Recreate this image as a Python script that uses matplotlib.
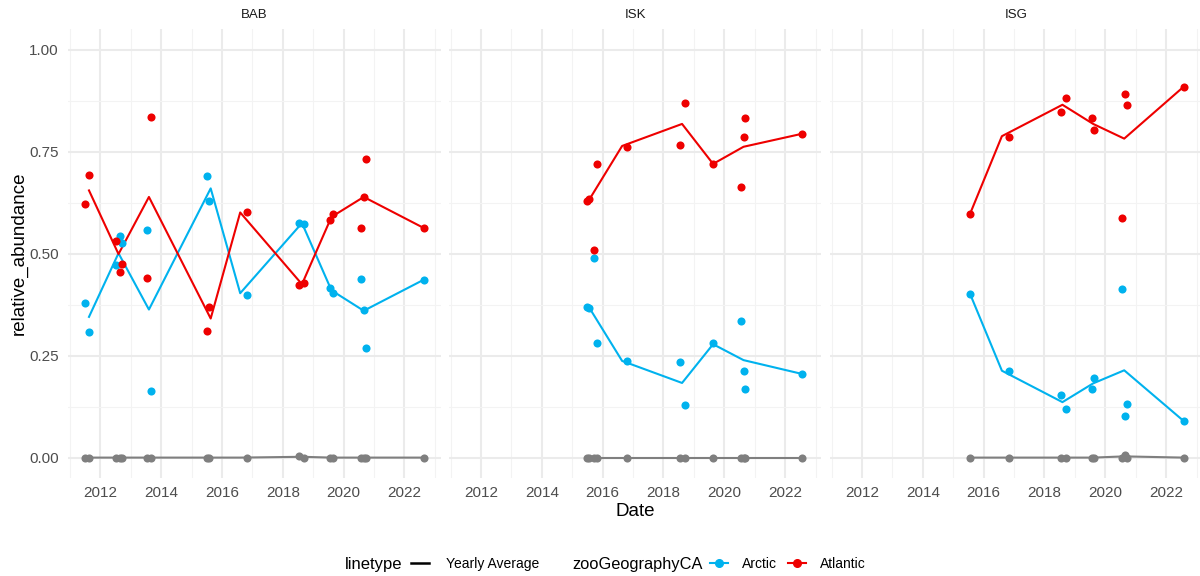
import numpy as np
import matplotlib.pyplot as plt
from matplotlib.lines import Line2D
from matplotlib.ticker import MultipleLocator, FormatStrFormatter

plt.rcParams['font.family'] = ['Liberation Sans', 'DejaVu Sans']

# colours
arctic_col = '#00B2EE'
atlantic_col = '#EE0000'
other_col = '#7F7F7F'

sites = ['BAB', 'ISK', 'ISG']

# --- sample points (decimal year) ---
bab_dates = [2011.51, 2011.63, 2012.53, 2012.66, 2012.72, 2013.54, 2013.67, 2015.51, 2015.56,
             2016.82, 2018.53, 2018.71, 2019.56, 2019.65, 2020.57, 2020.66, 2020.73, 2022.63]
bab_arctic = [0.380, 0.308, 0.472, 0.544, 0.526, 0.559, 0.163, 0.690, 0.630,
              0.399, 0.575, 0.573, 0.417, 0.403, 0.437, 0.362, 0.268, 0.436]
bab_atlantic = [0.621, 0.692, 0.530, 0.456, 0.475, 0.440, 0.836, 0.310, 0.370,
                0.601, 0.423, 0.427, 0.583, 0.598, 0.563, 0.639, 0.731, 0.563]
bab_other = [0, 0, 0, 0, 0, 0, 0, 0, 0, 0, 0.003, 0, 0, 0, 0, 0, 0, 0]

isk_dates = [2015.50, 2015.56, 2015.70, 2015.80, 2016.81, 2018.53, 2018.70, 2019.63,
             2020.55, 2020.63, 2020.69, 2022.56]
isk_arctic = [0.370, 0.366, 0.490, 0.281, 0.238, 0.234, 0.130, 0.280, 0.336, 0.213, 0.168, 0.205]
isk_atlantic = [0.630, 0.635, 0.509, 0.719, 0.762, 0.766, 0.870, 0.720, 0.664, 0.787, 0.832, 0.794]
isk_other = [0] * 12

isg_dates = [2015.55, 2016.82, 2018.53, 2018.71, 2019.57, 2019.62, 2020.55, 2020.64, 2020.70, 2022.57]
isg_arctic = [0.402, 0.213, 0.154, 0.118, 0.167, 0.196, 0.413, 0.102, 0.132, 0.090]
isg_atlantic = [0.597, 0.786, 0.847, 0.882, 0.833, 0.804, 0.587, 0.892, 0.865, 0.909]
isg_other = [0, 0, 0, 0, 0, 0, 0, 0.006, 0, 0]

# --- yearly averages ---
bab_avg_dates = [2011.63, 2012.60, 2013.60, 2015.63, 2016.60, 2018.63, 2019.60, 2020.66, 2022.63]
bab_avg_arctic = [0.345, 0.501, 0.363, 0.660, 0.403, 0.575, 0.410, 0.360, 0.436]
bab_avg_atlantic = [0.655, 0.499, 0.639, 0.341, 0.601, 0.425, 0.590, 0.639, 0.563]
bab_avg_other = [0, 0, 0, 0, 0, 0.002, 0, 0, 0]

isk_avg_dates = [2015.54, 2016.64, 2018.61, 2019.63, 2020.63, 2022.56]
isk_avg_arctic = [0.370, 0.237, 0.183, 0.278, 0.239, 0.205]
isk_avg_atlantic = [0.630, 0.764, 0.818, 0.720, 0.762, 0.794]
isk_avg_other = [0, 0, 0, 0, 0, 0]

isg_avg_dates = [2015.55, 2016.60, 2018.59, 2019.60, 2020.62, 2022.57]
isg_avg_arctic = [0.402, 0.213, 0.136, 0.182, 0.214, 0.090]
isg_avg_atlantic = [0.597, 0.788, 0.865, 0.818, 0.782, 0.909]
isg_avg_other = [0, 0, 0, 0, 0.003, 0]

points = {
    'BAB': (bab_dates, bab_other, bab_arctic, bab_atlantic),
    'ISK': (isk_dates, isk_other, isk_arctic, isk_atlantic),
    'ISG': (isg_dates, isg_other, isg_arctic, isg_atlantic),
}
averages = {
    'BAB': (bab_avg_dates, bab_avg_other, bab_avg_arctic, bab_avg_atlantic),
    'ISK': (isk_avg_dates, isk_avg_other, isk_avg_arctic, isk_avg_atlantic),
    'ISG': (isg_avg_dates, isg_avg_other, isg_avg_arctic, isg_avg_atlantic),
}
colors = [other_col, arctic_col, atlantic_col]

fig = plt.figure(figsize=(12, 5.76), dpi=100)

bottom, height = 98 / 576, 448.7 / 576
width = 372.4 / 1200
lefts = [68.3 / 1200, 449 / 1200, 830 / 1200]

for i, site in enumerate(sites):
    ax = fig.add_axes([lefts[i], bottom, width, height])
    ax.set_xlim(2010.95, 2023.19)
    ax.set_ylim(-0.05, 1.05)

    ax.xaxis.set_major_locator(MultipleLocator(2))
    ax.xaxis.set_minor_locator(MultipleLocator(1))
    ax.yaxis.set_major_locator(MultipleLocator(0.25))
    ax.yaxis.set_minor_locator(MultipleLocator(0.125))
    ax.xaxis.set_major_formatter(FormatStrFormatter('%d'))
    ax.yaxis.set_major_formatter(FormatStrFormatter('%.2f'))
    ax.grid(which='major', color='#EBEBEB', lw=1.5)
    ax.grid(which='minor', color='#F3F3F3', lw=0.8)
    ax.set_axisbelow(True)
    for s in ax.spines.values():
        s.set_visible(False)
    ax.tick_params(which='both', length=0, labelsize=11, labelcolor='#4D4D4D')
    ax.tick_params(axis='x', pad=6)
    ax.tick_params(axis='y', pad=7)
    if i > 0:
        ax.tick_params(axis='y', labelleft=False)

    d, *vals = points[site]
    ad, *avals = averages[site]
    for v, av, c in zip(vals, avals, colors):
        ax.plot(ad, av, color=c, lw=1.5, zorder=2)
        ax.scatter(d, v, s=34, color=c, linewidths=0, zorder=3)

    ax.text(0.5, 1.032, site, transform=ax.transAxes, ha='center', va='center',
            fontsize=9.5, color='#1A1A1A')

fig.text(19 / 1200, (576 - 253) / 576, 'relative_abundance', rotation=90,
         ha='center', va='center', fontsize=13.5)
fig.text(635 / 1200, (576 - 512) / 576, 'Date', ha='center', va='center', fontsize=13.5)

# legend
ly = (576 - 564) / 576
fig.text(345 / 1200, ly, 'linetype', ha='left', va='center', fontsize=12)
fig.legend(handles=[Line2D([], [], color='black', lw=1.8)], labels=['Yearly Average'],
           loc='center left', bbox_to_anchor=(411 / 1200, ly), frameon=False,
           fontsize=10, handlelength=1.3, handletextpad=1.2, borderpad=0, borderaxespad=0)
fig.text(572 / 1200, ly, 'zooGeographyCA', ha='left', va='center', fontsize=11.8)
fig.legend(handles=[Line2D([], [], color=arctic_col, lw=1.5, marker='o', ms=5.5),
                    Line2D([], [], color=atlantic_col, lw=1.5, marker='o', ms=5.5)],
           labels=['Arctic', 'Atlantic'], ncol=2,
           loc='center left', bbox_to_anchor=(710 / 1200, ly), frameon=False,
           fontsize=10, handlelength=1.3, handletextpad=1.0, columnspacing=0.8,
           borderpad=0, borderaxespad=0)

fig.savefig('out.png', dpi=100)
